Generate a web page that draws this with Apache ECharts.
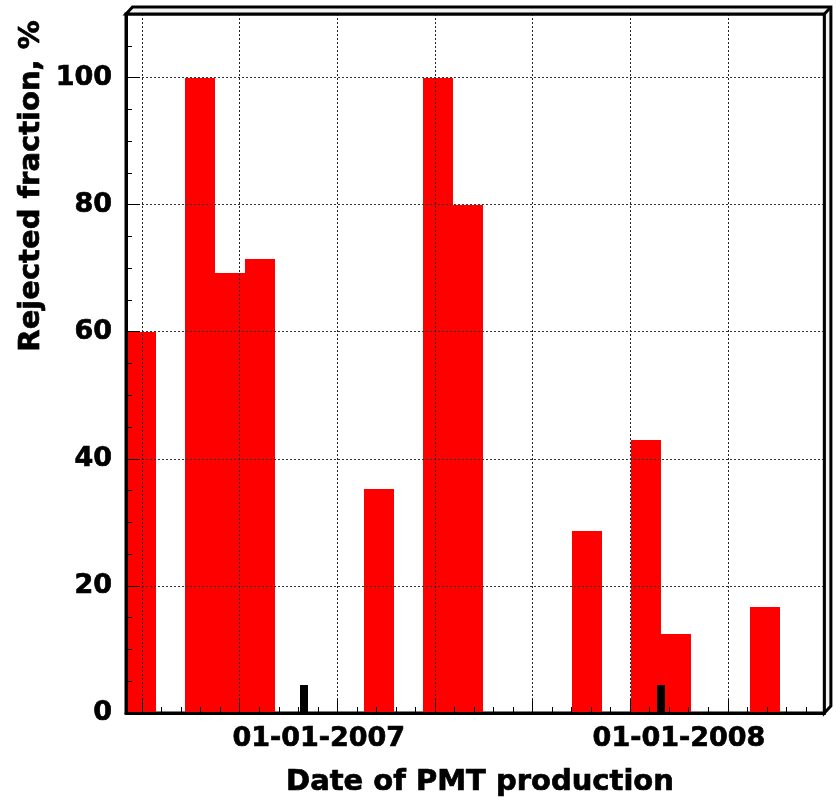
<!DOCTYPE html>
<html><head><meta charset="utf-8">
<script src="https://cdn.jsdelivr.net/npm/echarts@6.0.0/dist/echarts.min.js"></script>
<style>html,body{margin:0;padding:0;background:#fff}#chart{width:840px;height:801px}</style>
</head><body><div id="chart"></div>
<script>
// x axis unit: days (0 = first major grid line)
const xMinDay = -16.5;
const xMaxDay = 699;
const binOriginDay = -16.5;
const binWidthDays = 30.46;
// monthly histogram bins (index of bin) and rejected fraction in %
const redBins = [0, 2, 3, 4, 8, 10, 11, 15, 17, 18, 21];
const redValues = [60, 100, 69.2, 71.4, 35.3, 100, 80, 28.6, 42.9, 12.5, 16.7];
// black markers at bin edges
const blackEdges = [6, 18];
const blackValues = [4.4, 4.4];
// date tick labels
const xLabelDays = [181, 550];
const xLabels = ['01-01-2007', '01-01-2008'];
const yMin = 0, yMax = 110, yStep = 20;
const xTitle = 'Date of PMT production';
const yTitle = 'Rejected fraction, %';

const FONT = 'DejaVu Sans';
const chart = echarts.init(document.getElementById('chart'), null, {renderer: 'canvas'});

const L = 126, T = 14, R = 824.4, B = 713, dx = 6.5, dy = -7;

const option = {
  animation: false,
  backgroundColor: '#fff',
  grid: {left: L, right: 840 - R, top: T, bottom: 801 - B, show: true,
         borderColor: '#000', borderWidth: 3, backgroundColor: 'transparent'},
  xAxis: {
    type: 'value', min: xMinDay, max: xMaxDay, z: 5,
    axisLine: {show: true, onZero: false, lineStyle: {color: '#000', width: 3}},
    axisTick: {show: true, inside: true, length: 14, lineStyle: {color: '#000', width: 1}},
    minorTick: {show: true, splitNumber: 5, length: 6, lineStyle: {color: '#000', width: 1}},
    splitLine: {show: true, lineStyle: {color: '#222', type: [2, 2], width: 1}},
    axisLabel: {
      customValues: xLabelDays,
      formatter: function (v) {
        let best = 0, bd = 1e9;
        xLabelDays.forEach(function (d, i) { if (Math.abs(d - v) < bd) { bd = Math.abs(d - v); best = i; } });
        return xLabels[best];
      },
      fontFamily: FONT, fontSize: 27, fontWeight: 'bold', color: '#000', margin: 12,
      textBorderColor: '#000', textBorderWidth: 0.7
    }
  },
  yAxis: {
    type: 'value', min: yMin, max: yMax, interval: yStep, z: 5,
    axisLine: {show: true, onZero: false, lineStyle: {color: '#000', width: 3}},
    axisTick: {show: true, inside: true, length: 14, lineStyle: {color: '#000', width: 1}},
    minorTick: {show: true, splitNumber: 4, length: 6, lineStyle: {color: '#000', width: 1}},
    splitLine: {show: true, lineStyle: {color: '#333', type: [2, 2], width: 1}},
    axisLabel: {showMaxLabel: false, fontFamily: FONT, fontSize: 27, fontWeight: 'bold', color: '#000', margin: 14,
                textBorderColor: '#000', textBorderWidth: 0.7}
  },
  series: [
    {
      type: 'custom', z: 2, clip: true,
      encode: {x: [0, 1], y: 2},
      data: redBins.map(function (b, i) {
        return [binOriginDay + b * binWidthDays, binOriginDay + (b + 1) * binWidthDays, redValues[i]];
      }),
      renderItem: function (params, api) {
        const p0 = api.coord([api.value(0), 0]);
        const p1 = api.coord([api.value(1), api.value(2)]);
        const x0 = Math.round(p0[0]), x1 = Math.round(p1[0]), yT = Math.round(p1[1]);
        return {type: 'rect', shape: {x: x0, y: yT, width: x1 - x0, height: p0[1] - yT},
                style: {fill: '#ff0000'}};
      }
    },
    {
      type: 'custom', z: 3,
      encode: {x: 0, y: 1},
      data: blackEdges.map(function (e, i) { return [binOriginDay + e * binWidthDays, blackValues[i]]; }),
      renderItem: function (params, api) {
        const p0 = api.coord([api.value(0), 0]);
        const p1 = api.coord([api.value(0), api.value(1)]);
        const hw = 4;
        const xc = Math.round(p0[0]);
        return {type: 'rect', shape: {x: xc - hw, y: Math.round(p1[1]), width: 2 * hw, height: p0[1] - Math.round(p1[1])},
                style: {fill: '#000'}};
      }
    }
  ],
  graphic: [
    {type: 'polygon', z: 10,
     shape: {points: [[L, T], [L + dx, T + dy], [R + dx, T + dy], [R + dx, B + dy], [R, B], [R, T]]},
     style: {fill: '#f2f2f2', stroke: '#000', lineWidth: 3}},
    {type: 'line', z: 10, shape: {x1: R, y1: T, x2: R + dx, y2: T + dy},
     style: {stroke: '#000', lineWidth: 3}},
    {type: 'text', z: 10, x: 480, y: 782,
     style: {text: xTitle, fontFamily: FONT, fontSize: 29, fontWeight: 'bold', fill: '#000',
             stroke: '#000', lineWidth: 0.7, align: 'center', verticalAlign: 'middle'}},
    {type: 'text', z: 10, x: 31, y: 186, rotation: Math.PI / 2,
     style: {text: yTitle, fontFamily: FONT, fontSize: 29, fontWeight: 'bold', fill: '#000',
             stroke: '#000', lineWidth: 0.7, align: 'center', verticalAlign: 'middle'}}
  ]
};
chart.setOption(option);
</script>
</body></html>
